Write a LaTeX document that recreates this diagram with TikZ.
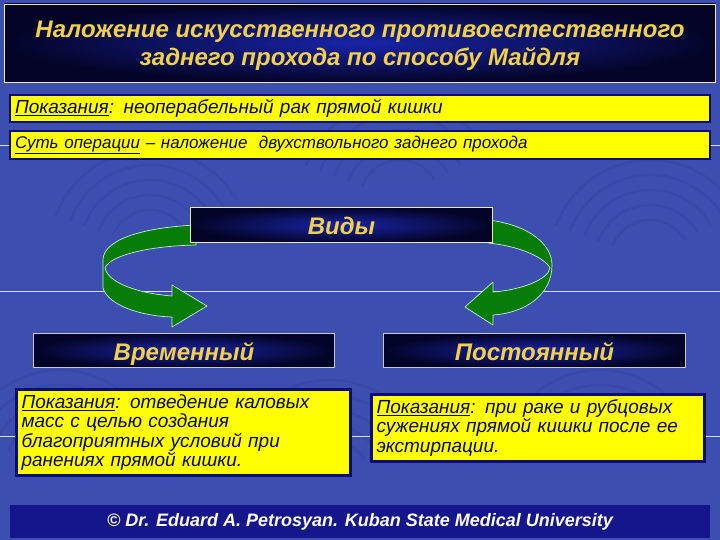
\documentclass[tikz,border=0pt]{standalone}
\usepackage{fontspec}
\setmainfont{Liberation Sans}
\usetikzlibrary{positioning}
\definecolor{slideblue}{RGB}{60,78,176}
\definecolor{navy}{RGB}{4,4,40}
\definecolor{glow}{RGB}{24,36,168}
\definecolor{titlegold}{RGB}{242,208,72}
\definecolor{titlerim}{RGB}{236,236,170}
\definecolor{greyrim}{RGB}{200,200,200}
\definecolor{boxyellow}{RGB}{255,255,0}
\definecolor{boxrim}{RGB}{12,12,120}
\definecolor{textnavy}{RGB}{8,8,70}
\definecolor{arrowgreen}{RGB}{8,124,8}
\definecolor{ribbonedge}{RGB}{200,240,200}
\definecolor{footerblue}{RGB}{22,22,140}
\tikzset{
  darkbox/.style  = {draw=#1, line width=0.8pt, inner color=glow, outer color=navy,
                     text=titlegold, font=\bfseries\itshape\fontsize{24}{28}\selectfont,
                     text height=20pt, text depth=1pt, inner ysep=0pt},
  notebox/.style  = {draw=boxrim, line width=2.5pt, fill=boxyellow, text=textnavy,
                     align=left, inner xsep=5pt},
  ribbon/.style   = {fill=arrowgreen, draw=ribbonedge, line width=0.7pt, line join=round},
  deco line/.style= {draw=white!80!slideblue, line width=0.8pt},
  swirl/.style    = {draw=navy, opacity=0.06, line width=2.5pt},
}

\begin{document}
\begin{tikzpicture}[x=1pt,y=-1pt]
  \useasboundingbox (0,0) rectangle (720,540);
  \fill[slideblue] (0,0) rectangle (720,540);

  % background swirls
  \foreach \cx/\cy in {150/250, 400/200, 650/260, 60/470, 330/480, 600/470}
    \foreach \r in {40,55,...,100}
      \draw[swirl] (\cx,\cy) ++(200:\r) arc (200:330:\r);

  % faint rules of the slide template
  \foreach \yy in {145,291,436}
    \draw[deco line] (0,\yy) -- (720,\yy);

  % ---------------- curved arrows (behind the box) -----------------------
  \draw[ribbon] (196,225) .. controls (135,228) and (103,242) .. (103,260)
       -- (103,288) .. controls (108,305) and (140,316) .. (172,317)
       -- (172,327) -- (207,306) -- (172,285) -- (172,296)
       .. controls (135,293) and (108,282) .. (105,268)
       .. controls (110,255) and (150,246) .. (196,245) -- cycle;
  \draw[ribbon] (488,220) .. controls (530,225) and (552,245) .. (552,265)
       .. controls (552,295) and (525,313) .. (493,315)
       -- (493,325) -- (465,307) -- (493,282) -- (493,292)
       .. controls (520,290) and (548,280) .. (550,268)
       .. controls (545,258) and (520,246) .. (488,243) -- cycle;

  % ---------------- title and statements ---------------------------------
  \node[darkbox=titlerim, minimum width=711, minimum height=78] (titlebox) at (360,43) {};
  \node[text=titlegold, align=center, font=\bfseries\itshape\fontsize{24}{28}\selectfont]
       (title) at ([yshift=-3pt]titlebox.center)
       {Наложение искусственного противоестественного\\заднего прохода по способу Майдля};
  \node[notebox, text width=690, minimum height=27, font=\itshape\fontsize{19}{21}\selectfont]
       (indic) at (360,108.5) {\underline{Показания}: неоперабельный рак прямой кишки};
  \node[notebox, text width=690, minimum height=28, font=\itshape\fontsize{17}{19}\selectfont]
       (essence) at (360,145) {\underline{Суть операции} – наложение~ двухствольного заднего прохода};

  % ---------------- kinds ------------------------------------------------
  \node[darkbox=titlerim, minimum width=302, minimum height=35] (kinds) at (341.5,225) {Виды};
  \node[darkbox=greyrim, minimum width=301, minimum height=34] (temp) at (184,350.5) {Временный};
  \node[darkbox=greyrim, minimum width=302, minimum height=34] (perm) at (534.5,350.5) {Постоянный};

  \node[notebox, text width=324, minimum height=86, font=\itshape\fontsize{19}{19.5}\selectfont]
       (tempnote) at (183.5,432.5)
       {\underline{Показания}: отведение каловых\\масс с целью создания\\благоприятных условий при\\ранениях прямой кишки.};
  \node[notebox, text width=323, minimum height=67, font=\itshape\fontsize{19}{19.5}\selectfont]
       (permnote) at (538,428)
       {\underline{Показания}: при раке и рубцовых\\сужениях прямой кишки после ее\\экстирпации.};

  % ---------------- footer -----------------------------------------------
  \node[fill=footerblue, minimum width=700, minimum height=33, text=white,
        font=\bfseries\itshape\fontsize{18}{20}\selectfont] (footer) at (360,521.5)
       {© Dr. Eduard A. Petrosyan. Kuban State Medical University};
\end{tikzpicture}
\end{document}
